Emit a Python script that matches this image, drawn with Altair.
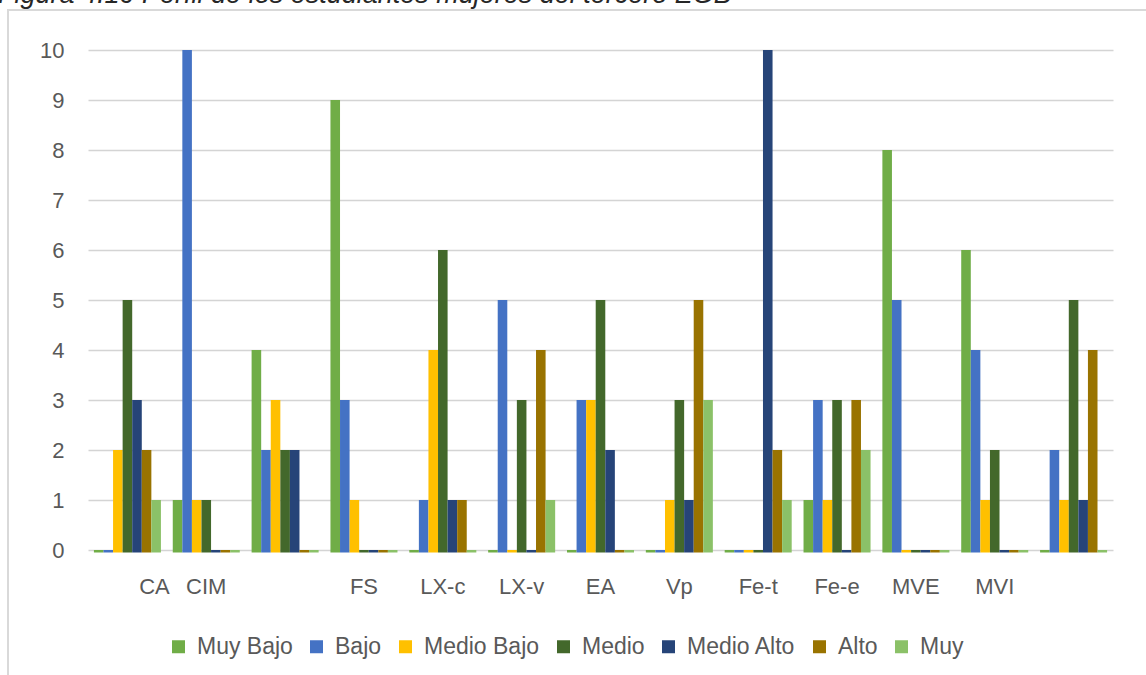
import altair as alt
import pandas as pd

# Categories along the x axis (two unnamed groups are kept as blank labels)
categories = ["CA", "CIM", " ", "FS", "LX-c", "LX-v", "EA", "Vp", "Fe-t", "Fe-e", "MVE", "MVI", "  "]
series = ["Muy Bajo", "Bajo", "Medio Bajo", "Medio", "Medio Alto", "Alto", "Muy"]
colors = ["#70AD47", "#4472C4", "#FFC000", "#43682B", "#264478", "#997300", "#8BC168"]

muy_bajo   = [0, 1, 4, 9, 0, 0, 0, 0, 0, 1, 8, 6, 0]
bajo       = [0, 10, 2, 3, 1, 5, 3, 0, 0, 3, 5, 4, 2]
medio_bajo = [2, 1, 3, 1, 4, 0, 3, 1, 0, 1, 0, 1, 1]
medio      = [5, 1, 2, 0, 6, 3, 5, 3, 0, 3, 0, 2, 5]
medio_alto = [3, 0, 2, 0, 1, 0, 2, 1, 10, 0, 0, 0, 1]
alto       = [2, 0, 0, 0, 1, 4, 0, 5, 2, 3, 0, 0, 4]
muy        = [1, 0, 0, 0, 0, 1, 0, 3, 1, 2, 0, 0, 0]

title_text = "Figura 4.10 Perfil de los estudiantes mujeres del tercero EGB"

columns = [muy_bajo, bajo, medio_bajo, medio, medio_alto, alto, muy]
rows = []
for name, vals in zip(series, columns):
    for cat, v in zip(categories, vals):
        rows.append({"categoria": cat, "nivel": name, "valor": v})
df = pd.DataFrame(rows)

FONT = "Liberation Sans"
GREY = "#595959"

minor_ticks = [i / 4 for i in range(0, 41)]

bars = alt.Chart(df).mark_bar().encode(
    x=alt.X(
        "categoria:N",
        sort=categories,
        title=None,
        scale=alt.Scale(paddingInner=0.15, paddingOuter=0.075),
        axis=alt.Axis(
            labelAngle=0,
            labelFontSize=22,
            labelColor=GREY,
            labelFont=FONT,
            labelPadding=26,
            # the first category label sits to the right of its group
            labelOffset=alt.expr("datum.value == 'CA' ? 27 : 0"),
            ticks=False,
            domain=False,
            grid=False,
        ),
    ),
    xOffset=alt.XOffset("nivel:N", sort=series, scale=alt.Scale(paddingInner=0, paddingOuter=0)),
    y=alt.Y(
        "valor:Q",
        title=None,
        scale=alt.Scale(domain=[0, 10], nice=False),
        axis=alt.Axis(
            values=minor_ticks,
            format="d",
            labelExpr="datum.value % 1 === 0 ? datum.label : ''",
            labelOverlap=False,
            labelFontSize=22,
            labelColor=GREY,
            labelFont=FONT,
            labelPadding=24,
            ticks=False,
            domain=False,
            gridColor=alt.expr("datum.value % 1 === 0 ? '#d4d4d4' : '#efefef'"),
            gridWidth=1.3,
        ),
    ),
    y2=alt.datum(-0.05),
    color=alt.Color(
        "nivel:N",
        sort=series,
        scale=alt.Scale(domain=series, range=colors),
        legend=alt.Legend(
            title=None,
            orient="none",
            direction="horizontal",
            legendX=79,
            legendY=585,
            symbolType="square",
            symbolSize=169,
            symbolStrokeWidth=0,
            labelFontSize=23,
            labelFont=FONT,
            labelColor=GREY,
            labelOffset=7,
            columnPadding=12,
        ),
    ),
)

one = pd.DataFrame({"k": [0]})

frame = alt.Chart(one).mark_rect(fill=None, stroke="#d9d9d9", strokeWidth=2).encode(
    x=alt.value(-80), x2=alt.value(1070), y=alt.value(-40), y2=alt.value(700)
)

heading = alt.Chart(one).mark_text(
    text=title_text, align="left", baseline="alphabetic", fontSize=27,
    fontStyle="italic", font=FONT, color="#262626"
).encode(x=alt.value(-90), y=alt.value(-47))

chart = alt.layer(frame, heading, bars).properties(
    width=1025,
    height=500,
    padding={"left": 88, "top": 50, "right": 33, "bottom": 125},
    autosize=alt.AutoSizeParams(type="none"),
    background="white",
).configure_view(stroke=None)

chart.save("out.html", embed_options={"renderer": "svg", "actions": False})
